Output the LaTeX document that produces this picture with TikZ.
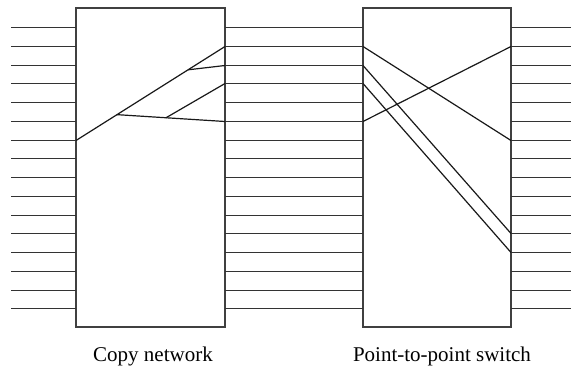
\documentclass[tikz,border=0pt]{standalone}
\usepackage{fontspec}
\setmainfont{Liberation Serif}
\usetikzlibrary{calc}
\tikzset{
  wire/.style={line width=0.65pt, black!80},
  route/.style={line width=0.6pt, black!90},
  box/.style={draw=black!75, line width=0.8pt, fill=white},
  caption/.style={anchor=base, inner sep=0pt, font=\fontsize{10.5}{12}\selectfont},
}
\begin{document}
\begin{tikzpicture}[x=0.5pt,y=-0.5pt]
\useasboundingbox (0,0) rectangle (571,369);
% the two boxes
\draw[box] (76,8) rectangle (225,327);
\draw[box] (363,8) rectangle (511,327);
% ports of both boxes and the wires between them
\foreach \i in {0,...,15}{
  \pgfmathsetmacro{\yy}{round(27+18.75*\i)+0.5}
  \coordinate (in\i) at (11,\yy);
  \coordinate (ci\i) at (76,\yy);
  \coordinate (co\i) at (225,\yy);
  \coordinate (si\i) at (363,\yy);
  \coordinate (so\i) at (511,\yy);
  \coordinate (out\i) at (571,\yy);
  \draw[wire] (in\i) -- (ci\i);
  \draw[wire] (co\i) -- (si\i);
  \draw[wire] (so\i) -- (out\i);
}
% copy network: one input fanned out to four outputs
\coordinate (b1) at ($(ci6)!0.275!(co1)$);
\coordinate (b3) at ($(ci6)!0.752!(co1)$);
\coordinate (b2) at ($(b1)!0.454!(co5)$);
\draw[route] (ci6) -- (co1);
\draw[route] (b1) -- (co5);
\draw[route] (b2) -- (co3);
\draw[route] (b3) -- (co2);
% point-to-point switch
\draw[route] (si1) -- (so6);
\draw[route] (si2) -- (so11);
\draw[route] (si3) -- (so12);
\draw[route] (si5) -- (so1);
% captions
\node[caption] (copylabel) at (153,361) {Copy network};
\node[caption] (switchlabel) at (442,361) {Point-to-point switch};
\end{tikzpicture}
\end{document}
